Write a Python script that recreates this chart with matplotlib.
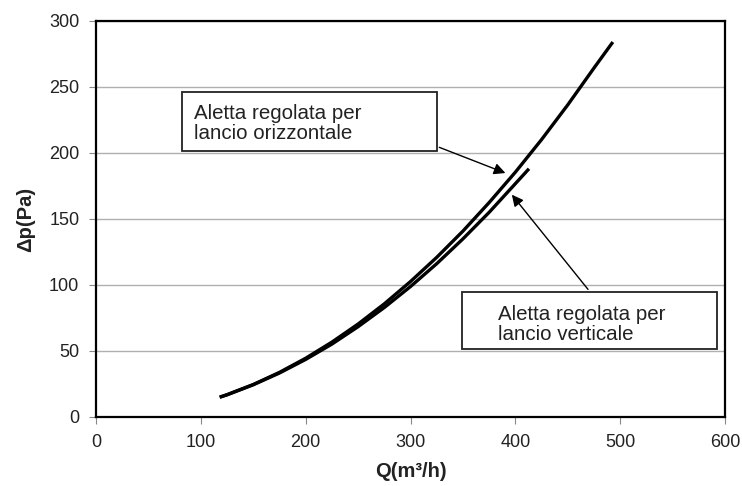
import matplotlib.pyplot as plt
from matplotlib.patches import Rectangle

plt.rcParams['font.family'] = ['Liberation Sans', 'DejaVu Sans']

# curve "lancio orizzontale"
q_oriz = [118, 125, 150, 175, 200, 225, 250, 275, 300, 325, 350, 375, 400, 425, 450, 475, 493]
dp_oriz = [15, 16.9, 24.6, 33.8, 44.5, 56.7, 70.4, 85.7, 102.6, 120.9, 140.8, 162.4,
           185.4, 210.1, 236.4, 264.3, 284]
# curve "lancio verticale"
q_vert = [118, 125, 150, 175, 200, 225, 250, 275, 300, 325, 350, 375, 400, 413]
dp_vert = [15, 16.8, 24.4, 33.3, 43.6, 55.2, 68.4, 82.9, 98.8, 116.1, 134.9, 155.0,
           176.7, 188]

fig = plt.figure(figsize=(7.42, 4.86), dpi=100)
ax = fig.add_axes([0.1294, 0.142, 0.8477, 0.815])

ax.plot(q_oriz, dp_oriz, color='black', lw=2.4, solid_capstyle='butt')
ax.plot(q_vert, dp_vert, color='black', lw=2.4, solid_capstyle='butt')

ax.set_xlim(0, 600)
ax.set_ylim(0, 300)
ax.set_xticks(range(0, 601, 100))
ax.set_yticks(range(0, 301, 50))
ax.yaxis.grid(True, color='#b0b0b0', lw=1)
ax.set_axisbelow(True)
for s in ax.spines.values():
    s.set_linewidth(1.6)
    s.set_color('black')
ax.tick_params(direction='out', length=5, color='#888888', labelsize=13, pad=7,
               labelcolor='#222222')

ax.set_xlabel('Q(m³/h)', fontsize=14.5, fontweight='bold', labelpad=8, color='#222222')
ax.set_ylabel('Δp(Pa)', fontsize=14.5, fontweight='bold', labelpad=10, color='#222222')

# label boxes
ax.add_patch(Rectangle((0.137, 0.672), 0.405, 0.149, transform=ax.transAxes,
                       facecolor='white', edgecolor='#222222', lw=1.3, zorder=4))
ax.text(0.155, 0.741, 'Aletta regolata per\nlancio orizzontale', transform=ax.transAxes,
        fontsize=14.8, va='center', ha='left', linespacing=1.1, zorder=5, color='#222222')

ax.add_patch(Rectangle((0.582, 0.172), 0.405, 0.144, transform=ax.transAxes,
                       facecolor='white', edgecolor='#222222', lw=1.3, zorder=4))
ax.text(0.639, 0.234, 'Aletta regolata per\nlancio verticale', transform=ax.transAxes,
        fontsize=14.8, va='center', ha='left', linespacing=1.1, zorder=5, color='#222222')

ax.annotate('', xy=(393, 184), xytext=(325, 205),
            arrowprops=dict(arrowstyle='-|>', color='black', lw=1, mutation_scale=17))
ax.annotate('', xy=(395, 170), xytext=(471, 95),
            arrowprops=dict(arrowstyle='-|>', color='black', lw=1, mutation_scale=17))

fig.savefig('out.png', dpi=100)
